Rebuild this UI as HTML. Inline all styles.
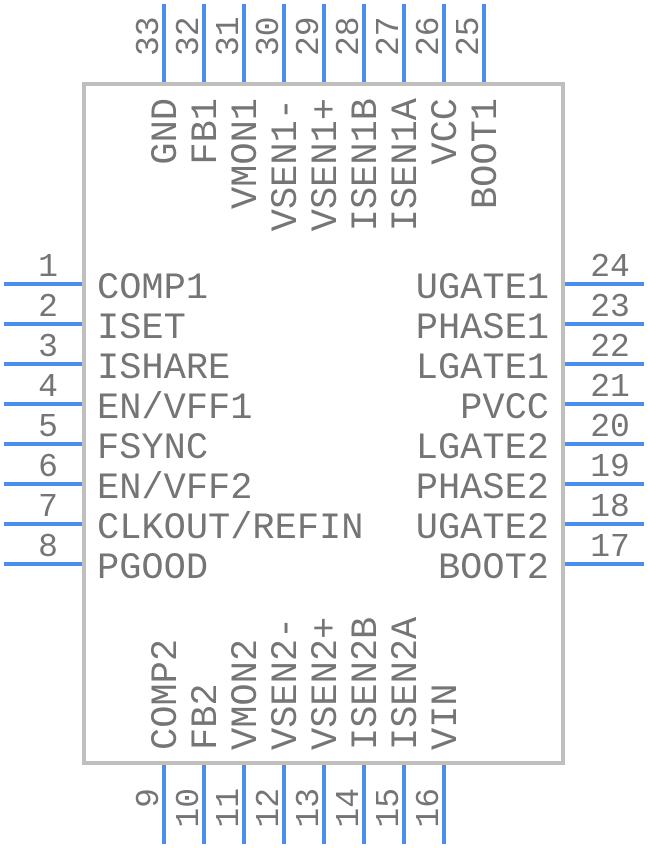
<!DOCTYPE html>
<html><head><style>html,body{margin:0;padding:0;background:#fff}svg{display:block}</style></head>
<body>
<svg xmlns="http://www.w3.org/2000/svg" width="648" height="848" viewBox="0 0 648 848">
<g stroke="#4a8cf0" stroke-width="4" fill="none">
<path d="M164 4V83M204 4V83M244 4V83M284 4V83M324 4V83M364 4V83M404 4V83M444 4V83M484 4V83"/>
<path d="M164 765V844M204 765V844M244 765V844M284 765V844M324 765V844M364 765V844M404 765V844M444 765V844"/>
<path d="M4 284H83M4 324H83M4 364H83M4 404H83M4 444H83M4 484H83M4 524H83M4 564H83"/>
<path d="M565 284H644M565 324H644M565 364H644M565 404H644M565 444H644M565 484H644M565 524H644M565 564H644"/>
</g>
<rect x="84" y="84" width="479" height="679" fill="none" stroke="#bfbfbf" stroke-width="4"/>
<g font-family="'Liberation Mono', monospace" fill="#757575" font-size="37">
<text x="97" y="298">COMP1</text>
<text x="97" y="338">ISET</text>
<text x="97" y="378">ISHARE</text>
<text x="97" y="418">EN/VFF1</text>
<text x="97" y="458">FSYNC</text>
<text x="97" y="498">EN/VFF2</text>
<text x="97" y="538">CLKOUT/REFIN</text>
<text x="97" y="578">PGOOD</text>
<g text-anchor="end">
<text x="549" y="298">UGATE1</text>
<text x="549" y="338">PHASE1</text>
<text x="549" y="378">LGATE1</text>
<text x="549" y="418">PVCC</text>
<text x="549" y="458">LGATE2</text>
<text x="549" y="498">PHASE2</text>
<text x="549" y="538">UGATE2</text>
<text x="549" y="578">BOOT2</text>
<text transform="translate(176,98) rotate(-90)">GND</text>
<text transform="translate(216,98) rotate(-90)">FB1</text>
<text transform="translate(256,98) rotate(-90)">VMON1</text>
<text transform="translate(296,98) rotate(-90)">VSEN1-</text>
<text transform="translate(336,98) rotate(-90)">VSEN1+</text>
<text transform="translate(376,98) rotate(-90)">ISEN1B</text>
<text transform="translate(416,98) rotate(-90)">ISEN1A</text>
<text transform="translate(456,98) rotate(-90)">VCC</text>
<text transform="translate(496,98) rotate(-90)">BOOT1</text>
</g>
<text transform="translate(176,750) rotate(-90)">COMP2</text>
<text transform="translate(216,750) rotate(-90)">FB2</text>
<text transform="translate(256,750) rotate(-90)">VMON2</text>
<text transform="translate(296,750) rotate(-90)">VSEN2-</text>
<text transform="translate(336,750) rotate(-90)">VSEN2+</text>
<text transform="translate(376,750) rotate(-90)">ISEN2B</text>
<text transform="translate(416,750) rotate(-90)">ISEN2A</text>
<text transform="translate(456,750) rotate(-90)">VIN</text>
</g>
<g font-family="'Liberation Mono', monospace" fill="#757575" font-size="33" text-anchor="middle">
<text x="48" y="276">1</text><text x="48" y="316">2</text><text x="48" y="356">3</text><text x="48" y="396">4</text>
<text x="48" y="436">5</text><text x="48" y="476">6</text><text x="48" y="516">7</text><text x="48" y="556">8</text>
<text x="610" y="276">24</text><text x="610" y="316">23</text><text x="610" y="356">22</text><text x="610" y="396">21</text>
<text x="610" y="436">20</text><text x="610" y="476">19</text><text x="610" y="516">18</text><text x="610" y="556">17</text>
</g>
<g font-family="'Liberation Mono', monospace" fill="#757575" font-size="33">
<text transform="translate(158,56) rotate(-90)">33</text>
<text transform="translate(198,56) rotate(-90)">32</text>
<text transform="translate(238,56) rotate(-90)">31</text>
<text transform="translate(278,56) rotate(-90)">30</text>
<text transform="translate(318,56) rotate(-90)">29</text>
<text transform="translate(358,56) rotate(-90)">28</text>
<text transform="translate(398,56) rotate(-90)">27</text>
<text transform="translate(438,56) rotate(-90)">26</text>
<text transform="translate(478,56) rotate(-90)">25</text>
<g text-anchor="end">
<text transform="translate(158,788) rotate(-90)">9</text>
<text transform="translate(198,788) rotate(-90)">10</text>
<text transform="translate(238,788) rotate(-90)">11</text>
<text transform="translate(278,788) rotate(-90)">12</text>
<text transform="translate(318,788) rotate(-90)">13</text>
<text transform="translate(358,788) rotate(-90)">14</text>
<text transform="translate(398,788) rotate(-90)">15</text>
<text transform="translate(438,788) rotate(-90)">16</text>
</g>
</g>
</svg>
</body></html>
